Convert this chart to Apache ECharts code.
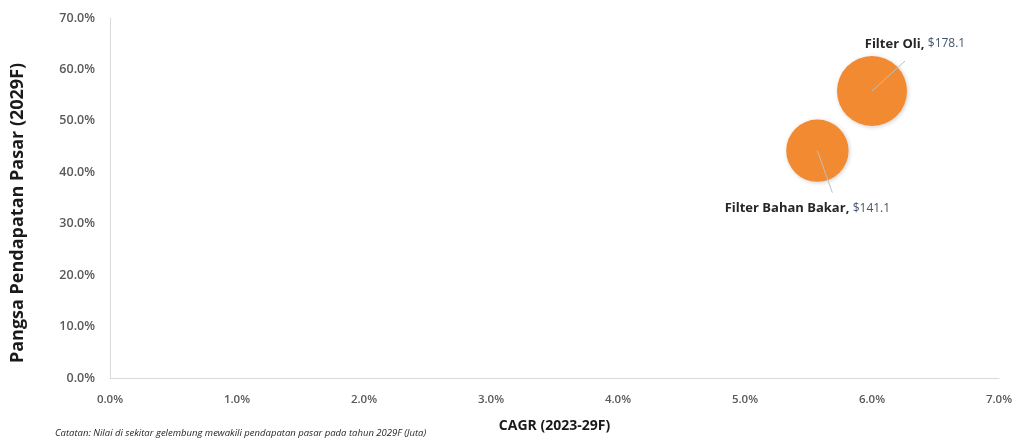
<!DOCTYPE html>
<html><head><meta charset="utf-8">
<script src="https://cdn.jsdelivr.net/npm/echarts@6/dist/echarts.min.js"></script>
<style>html,body{margin:0;padding:0;background:#fff}#c{width:1015px;height:439px}</style>
</head><body><div id="c"></div>
<script>
const names = ["Filter Oli", "Filter Bahan Bakar"];
const cagr = [6.0, 5.57];          // %
const share = [55.8, 44.2];        // %
const revenue = [178.1, 141.1];    // USD juta
const xTicks = [0, 1, 2, 3, 4, 5, 6, 7];
const yTicks = [0, 10, 20, 30, 40, 50, 60, 70];

// label anchor offsets (px) from bubble centre, and leader-line end offsets
const labelShift = [[43, -47], [-10, 58]];
const lineEnd = [[33, -30], [15, 42]];

const chart = echarts.init(document.getElementById('c'));
chart.setOption({
  animation: false,
  grid: {left: 110, right: 16, top: 18, bottom: 61, outerBoundsMode: 'none', containLabel: false},
  xAxis: {
    type: 'value', min: xTicks[0], max: xTicks[xTicks.length-1], interval: 1,
    axisLine: {show: true, lineStyle: {color: '#d9d9d9'}},
    axisTick: {show: false}, splitLine: {show: false},
    axisLabel: {formatter: v => v.toFixed(1) + '%', color: '#595959', fontSize: 11.5, fontWeight: 600, fontFamily: 'Open Sans', margin: 16},
    name: 'CAGR (2023-29F)', nameLocation: 'middle', nameGap: 41,
    nameTextStyle: {fontWeight: 'bold', fontSize: 14, color: '#1a1a1a', fontFamily: 'Open Sans'}
  },
  yAxis: {
    type: 'value', min: yTicks[0], max: yTicks[yTicks.length-1], interval: 10,
    axisLine: {show: true, lineStyle: {color: '#d9d9d9'}},
    axisTick: {show: false}, splitLine: {show: false},
    axisLabel: {formatter: v => v.toFixed(1) + '%', color: '#595959', fontSize: 12.5, fontWeight: 600, fontFamily: 'Open Sans', margin: 15}
  },
  graphic: [{
    type: 'text', x: 18, y: 213, rotation: Math.PI / 2,
    style: {text: 'Pangsa Pendapatan Pasar (2029F)', fontSize: 18, fontWeight: 'bold', fill: '#1a1a1a',
      fontFamily: 'Open Sans', align: 'center', verticalAlign: 'middle'}
  }, {
    type: 'text', left: 55, top: 428,
    style: {text: 'Catatan: Nilai di sekitar gelembung mewakili pendapatan pasar pada tahun 2029F (Juta)',
      fontSize: 9.5, fontStyle: 'italic', fill: '#262626', fontFamily: 'Open Sans'}
  }],
  series: [{
    type: 'scatter',
    data: names.map((n, i) => ({name: n, value: [cagr[i], share[i], revenue[i]]})),
    symbolSize: d => 70 * Math.sqrt(d[2] / revenue[0]),
    itemStyle: {color: '#F28A32', opacity: 1, shadowColor: 'rgba(0,0,0,0.2)', shadowBlur: 4, shadowOffsetX: 1, shadowOffsetY: 1},
    label: {
      show: true, position: 'inside',
      formatter: p => '{b|' + p.name + ',} {v|$' + p.value[2].toFixed(1) + '}',
      rich: {
        b: {fontWeight: 'bold', fontSize: 13, color: '#262626', fontFamily: 'Open Sans'},
        v: {fontSize: 12, color: '#44546A', fontFamily: 'Open Sans'}
      }
    },
    labelLayout: p => ({dx: labelShift[p.dataIndex][0], dy: labelShift[p.dataIndex][1]}),
    z: 2
  }, {
    type: 'custom',
    data: names.map((n, i) => [cagr[i], share[i]]),
    renderItem: (params, api) => {
      const c = api.coord([api.value(0), api.value(1)]);
      const e = lineEnd[params.dataIndex];
      return {
        type: 'line',
        shape: {x1: c[0], y1: c[1], x2: c[0] + e[0], y2: c[1] + e[1]},
        style: {stroke: '#bfbfbf', lineWidth: 1}
      };
    },
    silent: true,
    z: 3
  }]
});
</script></body></html>
